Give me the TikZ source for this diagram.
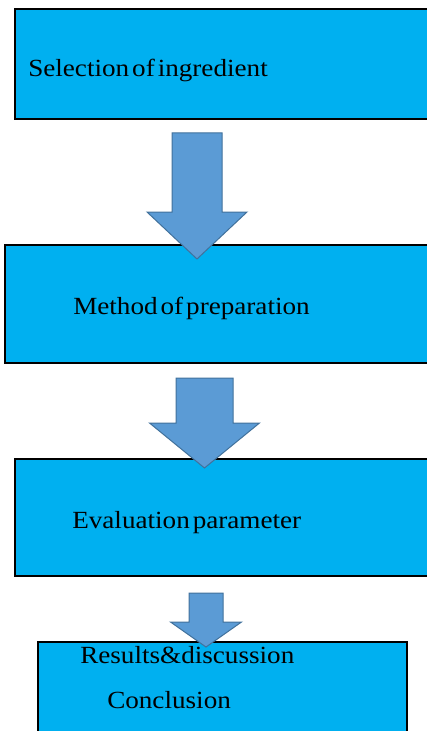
\documentclass[tikz,border=0pt]{standalone}
\usepackage{fontspec}
\setmainfont[FakeStretch=1.1]{Liberation Serif}
\definecolor{boxblue}{HTML}{00B0F0}
\definecolor{arrowfill}{HTML}{5B9BD5}
\definecolor{arrowline}{HTML}{41719C}
\newcommand{\lblfont}{\fontsize{18.5}{22}\selectfont\spaceskip=0.12em\relax}

\begin{document}
\begin{tikzpicture}[x=0.75pt, y=-0.75pt,
    box/.style={draw=black, fill=boxblue, line width=0.9pt, inner sep=0, outer sep=0, anchor=north west},
    blockarrow/.style={draw=arrowline, fill=arrowfill, line width=0.75pt, line join=miter},
    lbl/.style={anchor=base west, inner sep=0, font=\lblfont}]
                        \clip (0,0) rectangle (427,731);

                        \node[box, minimum width=318.75pt, minimum height=82.5pt] (sel) at (15,9) {};
                        \node[box, minimum width=326.25pt, minimum height=88.5pt] (meth) at (5,245) {};
                        \node[box, minimum width=318.75pt, minimum height=87.75pt] (eval) at (15,459) {};
                        \node[box, minimum width=276.75pt, minimum height=81pt] (res) at (38,642) {};

                        \foreach \c/\tp/\sw/\hs/\hw/\tip in {197/133/25/212/50/259, 204.5/378/28.5/423/55/468, 206/593/17/622/35.5/647}
                            \draw[blockarrow] (\c-\sw,\tp) -- (\c+\sw,\tp) -- (\c+\sw,\hs) -- (\c+\hw,\hs)
                                -- (\c,\tip) -- (\c-\hw,\hs) -- (\c-\sw,\hs) -- cycle;

                        \node[lbl] (selt) at (28,77) {Selection of ingredient};
                        \node[lbl] (metht) at (73,314) {Method of preparation};
                        \node[lbl] (evalt) at (72,528) {Evaluation parameter};
                        \node[lbl] (rest) at (80,663) {Results\&discussion};
                        \node[lbl] (conc) at (107,708) {Conclusion};
                    \end{tikzpicture}
\end{document}
